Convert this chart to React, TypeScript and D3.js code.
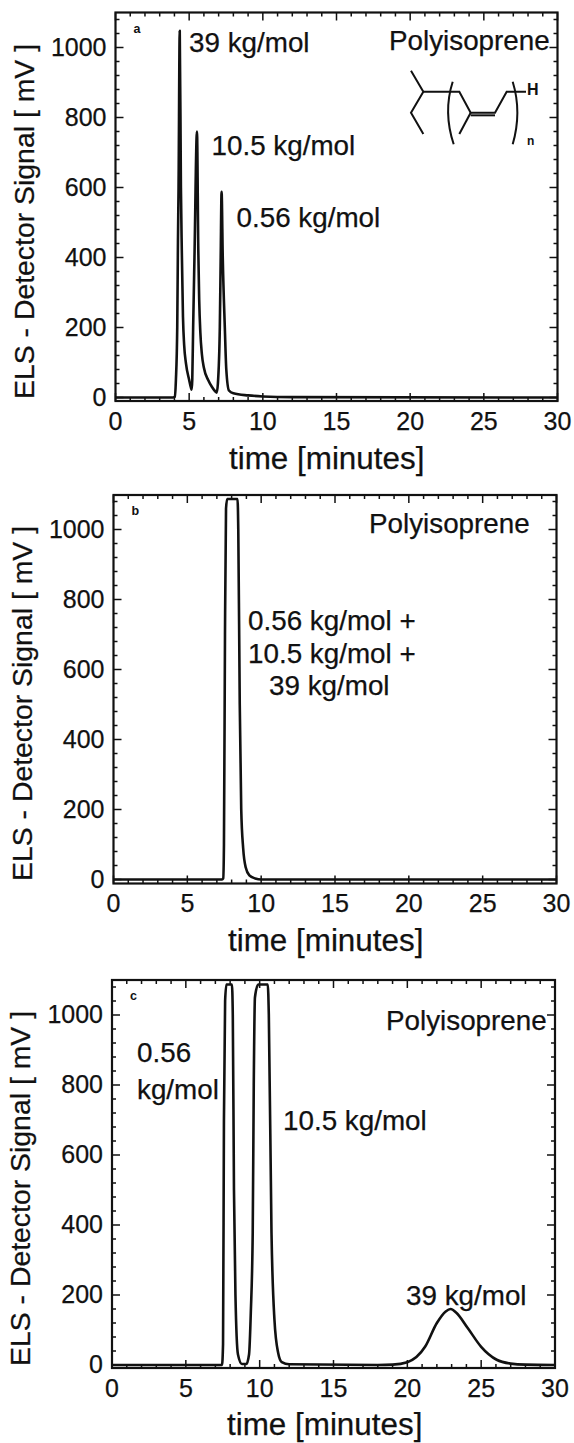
import React from 'react';
import * as d3 from 'd3';

// chromatograms: time in minutes, signal in mV
const timeA = [0, 3.9, 4.03, 4.1, 4.19, 4.24, 4.28, 4.36, 4.44, 4.5, 4.58, 4.66, 4.78, 5.0, 5.12, 5.17, 5.21, 5.27, 5.36, 5.53, 5.62, 5.68, 5.76, 5.86, 6.0, 6.29, 6.55, 6.78, 6.87, 6.95, 7.08, 7.14, 7.2, 7.28, 7.42, 7.52, 7.7, 8, 9, 10, 12, 30];
const signalA = [0, 0, 2, 50, 200, 450, 600, 1048, 600, 420, 230, 150, 98, 50, 28, 22, 50, 200, 400, 760, 420, 280, 185, 125, 85, 50, 30, 17, 14, 40, 200, 400, 588, 400, 200, 80, 20, 12, 6, 3, 1, 0];

const timeB = [0, 7.35, 7.43, 7.48, 7.55, 7.62, 7.7, 8.4, 8.45, 8.55, 8.65, 8.78, 8.95, 9.2, 9.6, 10, 30];
const signalB = [0, 0, 3, 100, 700, 1060, 1087, 1087, 1000, 500, 200, 90, 35, 12, 3, 0, 0];

const timeC = [0, 7.45, 7.52, 7.58, 7.66, 7.75, 8.12, 8.18, 8.26, 8.36, 8.53, 8.8, 9.1, 9.28, 9.4, 9.53, 9.6, 9.68, 9.9, 10.55, 10.62, 10.8, 11.0, 11.25, 11.5, 12, 18, 19, 20, 21.2, 22, 22.6, 22.93, 23.3, 24.1, 25, 26.05, 27, 28, 30];
const signalC = [0, 0, 60, 700, 1040, 1087, 1087, 1000, 500, 200, 30, 3, 3, 30, 150, 380, 800, 1050, 1087, 1087, 1000, 380, 130, 35, 8, 2, 0, 1, 8, 52, 120, 153, 160, 150, 105, 52, 15, 4, 1, 0];

const xTicks = [0, 5, 10, 15, 20, 25, 30];
const xMinorTicks = d3.range(0, 31);
const yTicks = [0, 200, 400, 600, 800, 1000];
const yMinorTicks = d3.range(0, 1100, 40);

const xTitle = 'time [minutes]';
const yTitle = 'ELS - Detector Signal [ mV ]';

const sampleA = ['39 kg/mol', '10.5 kg/mol', '0.56 kg/mol'];
const sampleB = ['0.56 kg/mol +', '10.5 kg/mol +', '39 kg/mol'];
const sampleC = ['0.56', 'kg/mol', '10.5 kg/mol', '39 kg/mol'];
const polymer = 'Polyisoprene';

const FONT = '"Liberation Sans", Arial, sans-serif';
const INK = '#111';

type Note = { text: string; x: number; y: number };

const Panel = ({ left, right, top, bottom, zero, time, signal, letter, notes, tickY, titleY, titleX, ytX, ytY }: {
  left: number; right: number; top: number; bottom: number; zero: number;
  time: number[]; signal: number[]; letter: string; notes: Note[];
  tickY: number; titleY: number; titleX: number; ytX: number; ytY: number;
}) => {
  const x = d3.scaleLinear().domain([0, 30]).range([left, right]);
  const y = d3.scaleLinear().domain([0, 1000]).range([zero, zero - 350]);
  const line = d3.line<number>()
    .x((_, i) => x(time[i]))
    .y((d) => y(d))
    .curve(d3.curveMonotoneX);

  return (
    <g>
      <rect x={left} y={top} width={right - left} height={bottom - top} fill="none" stroke={INK} strokeWidth={2.2} />
      {/* ticks on all four sides, pointing inward */}
      {xMinorTicks.map((t) => {
        const len = t % 5 === 0 ? 8 : 4;
        return (
          <g key={t} stroke={INK} strokeWidth={1.5}>
            <line x1={x(t)} x2={x(t)} y1={bottom} y2={bottom - len} />
            <line x1={x(t)} x2={x(t)} y1={top} y2={top + len} />
          </g>
        );
      })}
      {yMinorTicks.map((t) => {
        const len = t % 200 === 0 ? 8 : 4;
        return (
          <g key={t} stroke={INK} strokeWidth={1.5}>
            <line x1={left} x2={left + len} y1={y(t)} y2={y(t)} />
            <line x1={right} x2={right - len} y1={y(t)} y2={y(t)} />
          </g>
        );
      })}
      <path d={line(signal) ?? ''} fill="none" stroke={INK} strokeWidth={2.6} strokeLinejoin="round" />
      <g stroke={INK} strokeWidth={0.25}>
        {xTicks.map((t) => (
          <text key={t} x={x(t)} y={tickY} textAnchor="middle" fontSize={25}>{t}</text>
        ))}
        {yTicks.map((t) => (
          <text key={t} x={left - 9} y={y(t) + 8} textAnchor="end" fontSize={25}>{t}</text>
        ))}
        <text x={titleX} y={titleY} fontSize={31.4}>{xTitle}</text>
        <text transform={`translate(${ytX},${ytY}) rotate(-90)`} fontSize={28.4}>{yTitle}</text>
        {notes.map((n) => (
          <text key={n.text + n.y} x={n.x} y={n.y} fontSize={27.8}>{n.text}</text>
        ))}
      </g>
      <text x={left + 18} y={top + 20} fontSize={12.5} fontWeight="bold">{letter}</text>
    </g>
  );
};

// the repeat unit sketched in panel a
const Structure = () => {
  const p = (pts: [number, number][]) => d3.line()(pts.map(([a, b]) => [380 + a / 3, b / 3])) ?? '';
  return (
    <g fill="none" stroke={INK} strokeWidth={2}>
      <path d={p([[93, 212], [130, 275], [93, 338], [130, 402]])} />
      <path d={p([[130, 275], [238, 275], [272, 338], [345, 338], [380, 275], [438, 275]])} />
      <path d={p([[272, 346], [345, 346]])} />
      <path d={p([[272, 338], [238, 402]])} />
      <path d="M452.7 81.7 Q443 112 453.7 144.3" />
      <path d="M512.7 81.7 Q522 112 512.7 144.3" />
      <text x={527} y={95} fontSize={16} fontWeight="bold" fill={INK} stroke="none">H</text>
      <text x={527} y={145} fontSize={12} fontWeight="bold" fill={INK} stroke="none">n</text>
    </g>
  );
};

const App = () => (
  <svg
    width={574}
    height={1443}
    fontFamily={FONT}
    fill={INK}
    style={{ position: 'absolute', left: 0, top: 0, background: '#fff' }}
  >
    <Panel
      left={115.5} right={557.5} top={12.5} bottom={401} zero={397.5}
      time={timeA} signal={signalA} letter="a"
      notes={[
        { text: sampleA[0], x: 189, y: 52 },
        { text: sampleA[1], x: 211.5, y: 155 },
        { text: sampleA[2], x: 236.5, y: 227 },
        { text: polymer, x: 389, y: 50 },
      ]}
      tickY={430} titleY={469} titleX={229} ytX={34} ytY={399}
    />
    <Structure />
    <Panel
      left={113.5} right={556.5} top={495} bottom={883.5} zero={879.5}
      time={timeB} signal={signalB} letter="b"
      notes={[
        { text: polymer, x: 369, y: 533 },
        { text: sampleB[0], x: 248, y: 630 },
        { text: sampleB[1], x: 248, y: 663 },
        { text: sampleB[2], x: 269, y: 695 },
      ]}
      tickY={912} titleY={951} titleX={228} ytX={32} ytY={881}
    />
    <Panel
      left={112} right={555} top={980} bottom={1368} zero={1365}
      time={timeC} signal={signalC} letter="c"
      notes={[
        { text: polymer, x: 386, y: 1030 },
        { text: sampleC[0], x: 137, y: 1062 },
        { text: sampleC[1], x: 137, y: 1099 },
        { text: sampleC[2], x: 283, y: 1130 },
        { text: sampleC[3], x: 406, y: 1305 },
      ]}
      tickY={1397} titleY={1435} titleX={227} ytX={30} ytY={1366}
    />
  </svg>
);

export default App;
